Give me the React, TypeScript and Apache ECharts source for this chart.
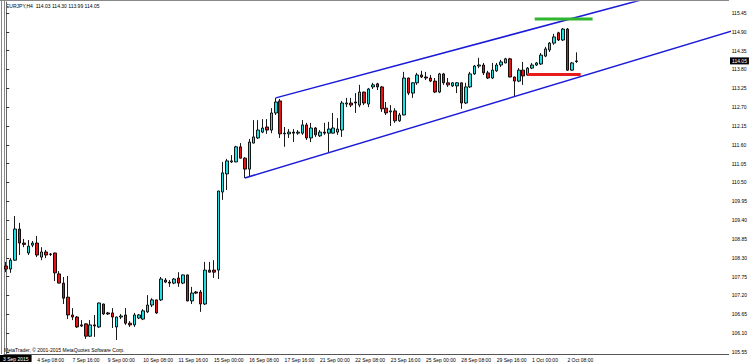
import { useEffect, useRef } from "react";
import * as echarts from "echarts";

// Price axis tick labels
const yTicks = [105.55, 106.1, 106.65, 107.2, 107.75, 108.3, 108.85, 109.4, 109.95, 110.5, 111.05, 111.6, 112.15, 112.7, 113.25, 113.8, 114.35, 114.9, 115.45];

// Time axis tick labels (every 8th H4 bar, starting at bar 7)
const tickLabels = ["4 Sep 08:00", "7 Sep 16:00", "9 Sep 00:00", "10 Sep 08:00", "11 Sep 16:00", "15 Sep 00:00", "16 Sep 08:00", "17 Sep 16:00", "21 Sep 00:00", "22 Sep 08:00", "23 Sep 16:00", "25 Sep 00:00", "28 Sep 08:00", "29 Sep 16:00", "1 Oct 00:00", "2 Oct 08:00"];
const TICK_FIRST = 7;
const TICK_STEP = 8;
const SLOTS = 164;

const open = [
  108.06, 107.97, 108.23, 109.14, 108.73, 108.44, 108.67, 108.73, 108.32, 108.47,
  108.41, 108.44, 107.83, 107.56, 107.15, 106.63, 106.57, 106.34, 106.37, 106.01,
  106.34, 106.28, 106.95, 106.69, 106.69, 106.28, 106.57, 106.63, 106.39, 106.34,
  106.54, 106.51, 106.72, 106.92, 107.07, 107.07, 107.65, 107.59, 107.56, 107.71,
  107.56, 107.80, 107.04, 107.30, 107.30, 106.95, 107.94, 107.94, 107.94, 110.22,
  110.75, 111.10, 111.10, 111.54, 111.21, 110.89, 111.65, 111.80, 111.97, 112.12,
  112.03, 112.53, 112.88, 111.94, 111.92, 111.97, 111.94, 111.94, 112.18, 111.80,
  112.09, 111.86, 111.97, 111.94, 111.94, 111.97, 112.03, 112.79, 112.82, 112.85,
  112.76, 113.14, 112.79, 113.29, 113.38, 113.29, 112.67, 112.56, 112.59, 112.30,
  112.47, 113.55, 113.11, 113.41, 113.64, 113.58, 113.55, 113.46, 113.14, 113.67,
  113.41, 113.32, 113.32, 113.41, 112.82, 113.29, 113.67, 113.90, 113.93, 113.70,
  113.55, 113.76, 113.93, 113.99, 114.11, 113.58, 113.46, 113.78, 113.64, 113.84,
  113.93, 113.96, 114.19, 114.37, 114.57, 114.87, 114.66, 114.98, 113.78, 114.03,
];
const close = [
  107.97, 108.23, 109.14, 108.73, 108.69, 108.64, 108.73, 108.38, 108.47, 108.38,
  108.40, 107.86, 107.56, 107.12, 106.63, 106.57, 106.28, 106.31, 106.01, 106.34,
  106.31, 106.98, 106.66, 106.66, 106.57, 106.57, 106.60, 106.39, 106.34, 106.63,
  106.63, 106.75, 106.92, 107.07, 106.69, 107.68, 107.59, 107.56, 107.68, 107.56,
  107.80, 107.04, 107.27, 107.27, 106.95, 107.94, 107.88, 107.88, 110.25, 110.78,
  111.13, 111.13, 111.54, 111.21, 110.89, 111.68, 111.83, 112.03, 112.09, 112.03,
  112.53, 112.85, 111.92, 111.92, 111.97, 111.94, 111.97, 112.18, 111.80, 112.09,
  111.89, 111.97, 111.94, 112.06, 112.09, 112.06, 112.82, 112.82, 112.76, 112.82,
  113.14, 112.82, 113.23, 113.35, 113.29, 112.65, 112.53, 112.59, 112.30, 112.47,
  113.55, 113.11, 113.41, 113.64, 113.58, 113.55, 113.46, 113.14, 113.67, 113.41,
  113.35, 113.41, 113.41, 112.82, 113.29, 113.67, 113.90, 113.93, 113.70, 113.55,
  113.78, 113.93, 114.02, 114.11, 113.58, 113.46, 113.78, 113.61, 113.84, 113.93,
  113.99, 114.22, 114.40, 114.57, 114.75, 114.66, 114.98, 113.78, 113.99, 114.05,
];
const low = [
  107.88, 107.86, 108.21, 108.38, 108.61, 108.38, 108.61, 108.32, 108.23, 108.29,
  108.35, 107.62, 107.55, 106.95, 106.51, 106.48, 106.25, 106.28, 105.93, 105.99,
  105.99, 106.25, 106.63, 106.63, 106.25, 105.90, 106.51, 106.34, 106.28, 106.28,
  106.51, 106.48, 106.69, 106.86, 106.66, 107.04, 107.56, 107.45, 107.53, 107.45,
  107.53, 107.03, 106.95, 107.24, 106.72, 106.92, 107.87, 107.71, 107.68, 109.99,
  110.28, 111.07, 111.09, 111.20, 110.63, 110.66, 111.64, 111.77, 111.94, 111.92,
  111.94, 112.47, 111.80, 111.54, 111.80, 111.68, 111.89, 111.89, 111.74, 111.68,
  111.83, 111.83, 111.89, 111.39, 111.93, 111.89, 111.83, 112.70, 112.70, 112.53,
  112.70, 112.76, 112.70, 113.23, 113.20, 112.56, 112.47, 112.15, 112.24, 112.27,
  112.46, 113.05, 112.97, 113.35, 113.55, 113.49, 113.43, 113.11, 113.11, 113.35,
  113.29, 113.29, 113.11, 112.65, 112.79, 113.26, 113.64, 113.84, 113.64, 113.52,
  113.52, 113.73, 113.87, 113.98, 113.57, 113.00, 113.43, 113.35, 113.61, 113.81,
  113.90, 113.93, 114.16, 114.31, 114.52, 114.63, 114.63, 113.76, 113.76, 113.99,
];
const high = [
  108.18, 108.29, 109.52, 109.32, 108.85, 108.82, 108.79, 108.94, 108.61, 108.53,
  108.44, 108.45, 107.91, 107.74, 107.77, 106.83, 106.60, 106.48, 106.38, 106.48,
  106.63, 106.99, 106.96, 106.72, 106.83, 106.58, 106.66, 106.83, 106.45, 106.69,
  106.66, 106.80, 107.21, 107.12, 107.08, 107.74, 107.71, 107.65, 107.71, 107.88,
  107.81, 107.81, 107.45, 107.33, 107.36, 108.18, 108.18, 108.23, 110.26, 111.10,
  111.19, 111.30, 111.57, 111.65, 111.24, 111.77, 112.32, 112.32, 112.35, 112.35,
  112.67, 112.97, 112.94, 112.12, 112.06, 112.06, 112.03, 112.32, 112.24, 112.24,
  112.12, 112.03, 112.24, 112.27, 112.53, 112.38, 112.88, 112.97, 112.97, 113.11,
  113.35, 113.15, 113.26, 113.41, 113.41, 113.32, 112.85, 112.76, 112.67, 112.53,
  113.73, 113.56, 113.43, 113.70, 113.76, 113.73, 113.64, 113.55, 113.70, 113.70,
  113.55, 113.43, 113.43, 113.42, 113.41, 113.73, 113.93, 114.14, 113.99, 113.76,
  113.99, 113.99, 114.08, 114.14, 114.14, 113.59, 113.84, 114.02, 113.87, 113.99,
  114.02, 114.28, 114.46, 114.60, 114.84, 114.90, 115.01, 115.01, 114.02, 114.30,
];

// Drawn objects: [bar position, price]
const upperChannel = [[61, 112.97], [170, 116.74]];
const lowerChannel = [[54, 110.63], [170, 115.15]];
const resistance = [[119.6, 115.27], [132.7, 115.27]];
const support = [[118, 113.65], [130, 113.65]];
const lastPrice = 114.05;

const titleText = "EURJPY,H4  114.03 114.30 113.99 114.05";
const copyrightText = "MetaTrader, \u00a9 2001-2015 MetaQuotes Software Corp.";
const firstDateText = "3 Sep 2015";

export default function App() {
  const ref = useRef<HTMLDivElement>(null);
  useEffect(() => {
    const chart = echarts.init(ref.current!, null, { renderer: "svg" });
    const font = "'Liberation Sans', Arial, sans-serif";
    const categories = Array.from({ length: SLOTS }, (_, i) => String(i));
    const isTick = (i: number) => {
      const k = (i - TICK_FIRST) / TICK_STEP;
      return k >= 0 && Number.isInteger(k) && k < tickLabels.length;
    };
    const candles = open.map((o, i) => [o, close[i], low[i], high[i]]);
    const lineBase = {
      type: "line",
      xAxisIndex: 1,
      yAxisIndex: 0,
      showSymbol: false,
      symbol: "none",
      clip: true,
      silent: true,
      z: 5,
    };
    chart.setOption({
      animation: false,
      backgroundColor: "#ffffff",
      grid: { left: 4, right: 21, top: 2, bottom: 10 },
      xAxis: [
        {
          type: "category",
          data: categories,
          boundaryGap: true,
          axisLine: { lineStyle: { color: "#555", width: 1 } },
          axisTick: {
            interval: (i: number) => isTick(i),
            alignWithLabel: true,
            length: 3,
            lineStyle: { color: "#333" },
          },
          axisLabel: {
            interval: (i: number) => isTick(i),
            formatter: (_v: string, i: number) => tickLabels[(i - TICK_FIRST) / TICK_STEP] ?? "",
            align: "left",
            fontSize: 5,
            color: "#000",
            margin: 3,
            fontFamily: font,
          },
          splitLine: { show: false },
        },
        { type: "value", min: -0.5, max: SLOTS - 0.5, show: false },
      ],
      yAxis: {
        type: "value",
        position: "right",
        min: 105.49,
        max: 115.77,
        axisLine: { show: true, lineStyle: { color: "#666", width: 1 } },
        axisTick: { show: true, customValues: yTicks, length: 3, lineStyle: { color: "#333" } },
        axisLabel: {
          customValues: yTicks,
          formatter: (v: number) => v.toFixed(2),
          fontSize: 5,
          color: "#000",
          margin: 3,
          fontFamily: font,
        },
        splitLine: { show: false },
      },
      series: [
        {
          type: "candlestick",
          data: candles,
          barWidth: 3,
          itemStyle: {
            color: "#1fe0e0",
            color0: "#e51515",
            borderColor: "#000",
            borderColor0: "#000",
            borderWidth: 0.9,
          },
        },
        { ...lineBase, data: upperChannel, lineStyle: { color: "#1a1ad8", width: 1.5 } },
        { ...lineBase, data: lowerChannel, lineStyle: { color: "#1a1ad8", width: 1.5 } },
        { ...lineBase, data: resistance, lineStyle: { color: "#2fb52f", width: 3 } },
        { ...lineBase, data: support, lineStyle: { color: "#e51d1d", width: 3 } },
      ],
      graphic: [
        { type: "line", shape: { x1: 1.5, y1: 0, x2: 1.5, y2: 354 }, style: { stroke: "#888", lineWidth: 1 } },
        { type: "line", shape: { x1: 4.5, y1: 0, x2: 4.5, y2: 354 }, style: { stroke: "#888", lineWidth: 1 } },
        { type: "line", shape: { x1: 0, y1: 0.5, x2: 729, y2: 0.5 }, style: { stroke: "#888", lineWidth: 1 } },
        {
          type: "text",
          left: 6,
          top: 3,
          style: { text: titleText, fontSize: 5, fill: "#000", fontFamily: font },
        },
        {
          type: "text",
          left: 4,
          top: 347,
          style: { text: copyrightText, fontSize: 5, fill: "#000", fontFamily: font },
        },
        {
          type: "text",
          left: 0,
          top: 355,
          style: {
            text: firstDateText,
            fontSize: 5,
            fill: "#fff",
            backgroundColor: "#000",
            padding: [1, 3],
            fontFamily: font,
          },
        },
      ],
    });
    // Current price box on the price axis, placed through the axis scale
    const yPix = chart.convertToPixel({ yAxisIndex: 0 }, lastPrice) as number;
    chart.setOption({
      graphic: [
        {
          id: "lastPriceBox",
          type: "text",
          x: 730,
          y: yPix,
          style: {
            text: lastPrice.toFixed(2),
            fontSize: 5,
            fill: "#fff",
            backgroundColor: "#000",
            padding: [1, 2],
            fontFamily: font,
            verticalAlign: "middle",
            align: "left",
          },
          z: 100,
        },
      ],
    });
    return () => chart.dispose();
  }, []);
  return (
    <div
      ref={ref}
      style={{ position: "fixed", left: 0, top: 0, width: 750, height: 364, background: "#fff" }}
    />
  );
}
